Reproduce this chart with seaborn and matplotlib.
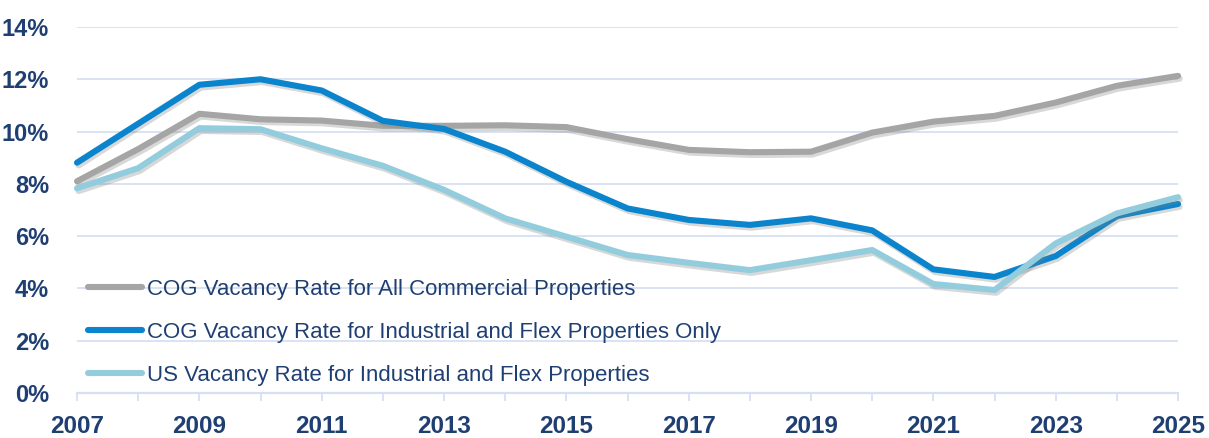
import numpy as np
import pandas as pd
import matplotlib
matplotlib.use('Agg')
import matplotlib.pyplot as plt
import matplotlib.patheffects as pe
import seaborn as sns

# ========== data (percent) ==========
years = [2007, 2008, 2009, 2010, 2011, 2012, 2013, 2014, 2015, 2016,
         2017, 2018, 2019, 2020, 2021, 2022, 2023, 2024, 2025]
cog_all = [8.10, 9.33, 10.68, 10.47, 10.42, 10.22, 10.22, 10.24, 10.17, 9.71,
           9.30, 9.21, 9.23, 9.96, 10.38, 10.60, 11.11, 11.75, 12.13]
cog_ind = [8.81, 10.30, 11.79, 12.00, 11.57, 10.41, 10.10, 9.23, 8.08, 7.06,
           6.62, 6.43, 6.68, 6.22, 4.73, 4.44, 5.24, 6.77, 7.23]
us_ind = [7.83, 8.60, 10.13, 10.09, 9.36, 8.69, 7.77, 6.68, 5.98, 5.28,
          4.98, 4.70, 5.08, 5.47, 4.17, 3.94, 5.72, 6.87, 7.49]
series_names = ['COG Vacancy Rate for All Commercial Properties',
                'COG Vacancy Rate for Industrial and Flex Properties Only',
                'US Vacancy Rate for Industrial and Flex Properties']
colors = ['#A5A5A5', '#0A84CC', '#93CDDD']
y_ticks = [0, 2, 4, 6, 8, 10, 12, 14]

df = pd.DataFrame({
    'year': years * 3,
    'rate': cog_all + cog_ind + us_ind,
    'series': [series_names[0]] * len(years) + [series_names[1]] * len(years) + [series_names[2]] * len(years),
})

text_col = '#1F3F73'
grid_col = '#D5E1F2'

sns.set_style('white')
plt.rcParams['font.family'] = ['Liberation Sans Narrow', 'Liberation Sans', 'DejaVu Sans']

fig, ax = plt.subplots(figsize=(12.09, 4.38), dpi=100)
fig.subplots_adjust(left=0.0637, right=0.9744, bottom=0.1027, top=0.9384)

sns.lineplot(data=df, x='year', y='rate', hue='series', hue_order=series_names,
             palette=colors, linewidth=4.4, ax=ax, legend=True)

ax.set_xlim(2007, 2025)
ax.set_ylim(0, 14)
ax.set_xlabel('')
ax.set_ylabel('')

# grid
ax.set_yticks(y_ticks)
ax.set_yticklabels([f'{v}%' for v in y_ticks])
ax.yaxis.grid(True, color=grid_col, linewidth=1.3)
ax.set_axisbelow(True)
for s in ['top', 'right', 'left']:
    ax.spines[s].set_visible(False)
ax.spines['bottom'].set_color(grid_col)
ax.spines['bottom'].set_linewidth(1.6)

ax.set_xticks(years)
ax.set_xticklabels([str(y) if y % 2 == 1 else '' for y in years])
ax.tick_params(axis='x', length=6, width=1.3, color=grid_col, labelsize=17.5,
               labelcolor=text_col, pad=10, direction='out', bottom=True)
ax.tick_params(axis='y', length=0, labelsize=17, labelcolor=text_col, pad=20)
for lab in ax.get_xticklabels() + ax.get_yticklabels():
    lab.set_fontweight('bold')

leg = ax.legend(loc='lower left', bbox_to_anchor=(0.01, 0.02), frameon=False,
                fontsize=16, handlelength=2.45, handletextpad=0.2,
                labelspacing=0.98, borderpad=0, borderaxespad=0)
for t in leg.get_texts():
    t.set_color(text_col)
for h in leg.get_lines():
    h.set_linewidth(4.4)
    h.set_solid_capstyle('round')

# soft drop shadow like the original
for ln in ax.lines:
    ln.set_clip_on(False)
    ln.set_path_effects([pe.SimpleLineShadow(offset=(1.2, -2.0), shadow_color='#7F7F7F', alpha=0.3),
                         pe.Normal()])

plt.savefig('out.png', dpi=100)
